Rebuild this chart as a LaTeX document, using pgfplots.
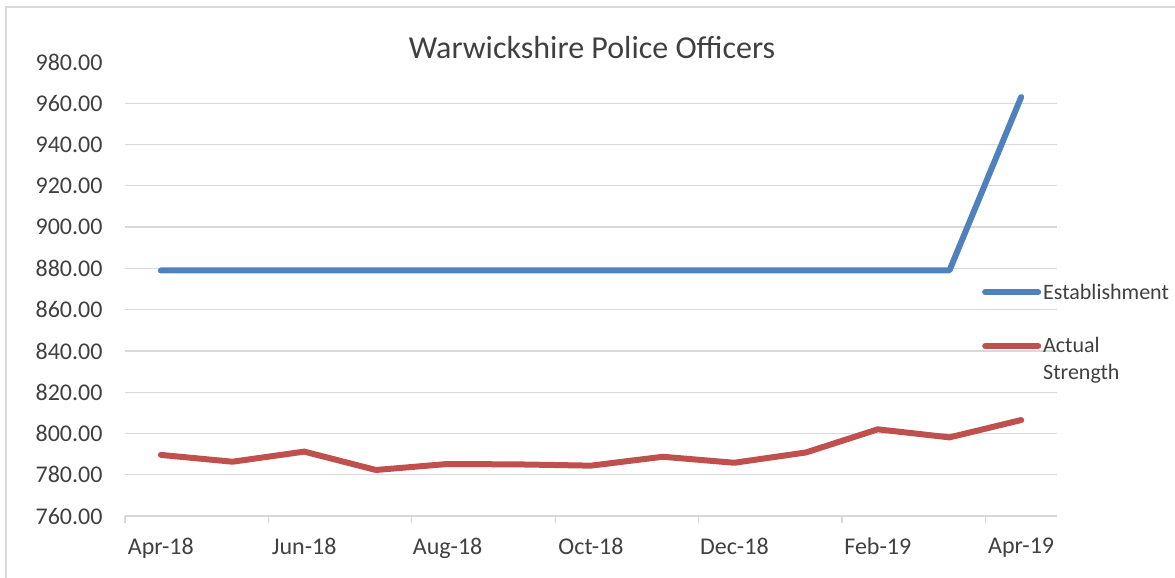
\documentclass[border=0pt]{standalone}
\usepackage{fontspec}
\setmainfont{Carlito}
\usepackage{pgfplots}
\pgfplotsset{compat=1.18}
\definecolor{estblue}{HTML}{4F81BD}
\definecolor{actred}{HTML}{C0504D}
\definecolor{gridgray}{HTML}{D9D9D9}
\definecolor{txt}{HTML}{404040}
\begin{document}
\begin{tikzpicture}
\useasboundingbox (-125bp,-62bp) rectangle (1050bp,516bp);
\draw[gridgray,line width=1.2bp] (-119bp,-62bp) -- (-119bp,509bp) -- (1050bp,509bp);
\node[txt,font=\fontsize{32bp}{38bp}\selectfont] at (467bp,468bp) {Warwickshire Police Officers};
\begin{axis}[
  at={(0bp,0bp)}, anchor=south west,
  scale only axis, width=932bp, height=454bp,
  xmin=-0.5, xmax=12.5, ymin=760, ymax=980,
  axis line style={draw=none},
  axis x line*=bottom,
  xtick={0,2,4,6,8,10,12},
  xticklabels={Apr-18,Jun-18,Aug-18,Oct-18,Dec-18,Feb-19,Apr-19},
  major x tick style={draw=none},
  minor xtick={-0.5,1.5,3.5,5.5,7.5,9.5,11.5},
  minor x tick style={gridgray,line width=1.2bp},
  minor tick length=7bp,
  xtick align=outside,
  ytick={760,780,...,960},
  extra y ticks={980},
  extra y tick style={grid=none},
  ymajorgrids,
  grid style={gridgray,line width=1.2bp},
  major y tick style={draw=none},
  yticklabel style={/pgf/number format/fixed,/pgf/number format/fixed zerofill,/pgf/number format/precision=2,/pgf/number format/1000 sep={}},
  /pgf/number format/assume math mode=true,
  tick label style={txt,font=\fontsize{24bp}{28bp}\selectfont},
  yticklabel style={xshift=-19bp},
  xticklabel style={yshift=-14bp},
  legend cell align=left,
  legend style={at={(0.9195,0.516)},anchor=north west,draw=none,fill=none,
    font=\fontsize{22bp}{27bp}\selectfont,text=txt,
    row sep=33bp, inner sep=0pt,
    cells={anchor=base west},
    nodes={inner sep=2bp}},
  legend image code/.code={\draw[#1,line cap=round] (0bp,7bp) -- (53bp,7bp);},
]
\draw[gridgray,line width=1.2bp] (axis cs:-0.5,760) -- (axis cs:12.5,760);
\addplot[estblue,line width=6bp,line cap=round,line join=round] coordinates {
(0,879) (1,879) (2,879) (3,879) (4,879) (5,879) (6,879) (7,879) (8,879) (9,879) (10,879) (11,879) (12,963)};
\addlegendentry{Establishment}
\addplot[actred,line width=6bp,line cap=round,line join=round] coordinates {
(0,789.6) (1,786.3) (2,791.2) (3,782.3) (4,785.2) (5,785.0) (6,784.4) (7,788.7) (8,785.8) (9,790.8) (10,802.0) (11,798.1) (12,806.5)};
\addlegendentry{\vtop{\hbox{Actual}\hbox{Strength}}}
\end{axis}
\end{tikzpicture}
\end{document}
